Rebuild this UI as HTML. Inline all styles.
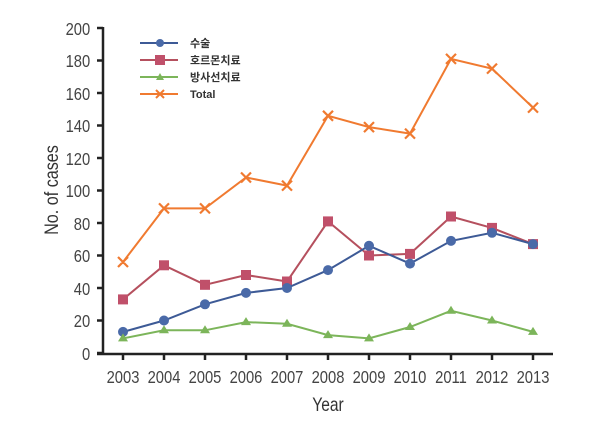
<!DOCTYPE html><html><head><style>body{margin:0;background:#fff}svg{display:block}text{font-family:"Liberation Sans","Noto Sans CJK KR",sans-serif}</style></head><body>
<svg width="600" height="438" viewBox="0 0 600 438">
<g fill="#444" font-size="18" text-anchor="end" transform="scale(0.82,1)">
<text x="110" y="360">0</text><text x="110" y="327">20</text><text x="110" y="295">40</text><text x="110" y="262">60</text><text x="110" y="230">80</text><text x="110" y="197">100</text><text x="110" y="165">120</text><text x="110" y="132">140</text><text x="110" y="100">160</text><text x="110" y="67">180</text><text x="110" y="35">200</text>
</g>
<g stroke="#222" stroke-width="2.5" fill="none">
<path d="M103,27V354M97,354H553"/>
<path d="M97,353h6M97,320.5h6M97,288h6M97,255.5h6M97,223h6M97,190.5h6M97,158h6M97,125.5h6M97,93h6M97,60.5h6M97,28h6"/>
<path d="M123,354v6M164,354v6M205,354v6M246,354v6M287,354v6M328,354v6M369,354v6M410,354v6M451,354v6M492,354v6M533,354v6"/>
</g>
<g fill="#444" font-size="18" text-anchor="middle" transform="scale(0.82,1)">
<text x="150" y="383">2003</text><text x="200" y="383">2004</text><text x="250" y="383">2005</text><text x="300" y="383">2006</text><text x="350" y="383">2007</text><text x="400" y="383">2008</text><text x="450" y="383">2009</text><text x="500" y="383">2010</text><text x="550" y="383">2011</text><text x="600" y="383">2012</text><text x="650" y="383">2013</text>
<text x="400" y="411" font-size="19" fill="#333">Year</text>
</g>
<text transform="translate(58,190) rotate(-90) scale(0.85,1)" text-anchor="middle" font-size="19" fill="#333">No. of cases</text>
<polyline fill="none" stroke="#f07a30" stroke-width="2" points="123,262 164,208.4 205,208.4 246,177.5 287,185.6 328,115.8 369,127.1 410,133.6 451,58.9 492,68.6 533,107.6"/>
<g stroke="#f07a30" stroke-width="2.2">
<path d="M118,257l10,10M128,257l-10,10M159,203.4l10,10M169,203.4l-10,10M200,203.4l10,10M210,203.4l-10,10M241,172.5l10,10M251,172.5l-10,10M282,180.6l10,10M292,180.6l-10,10M323,110.8l10,10M333,110.8l-10,10M364,122.1l10,10M374,122.1l-10,10M405,128.6l10,10M415,128.6l-10,10M446,53.9l10,10M456,53.9l-10,10M487,63.6l10,10M497,63.6l-10,10M528,102.6l10,10M538,102.6l-10,10"/>
</g>
<polyline fill="none" stroke="#b5505e" stroke-width="2" points="123,299.4 164,265.3 205,284.8 246,275 287,281.5 328,221.4 369,255.5 410,253.9 451,216.5 492,227.9 533,244.1"/>
<g fill="#c0506a">
<rect x="118" y="294.4" width="10" height="10"/><rect x="159" y="260.3" width="10" height="10"/><rect x="200" y="279.8" width="10" height="10"/><rect x="241" y="270" width="10" height="10"/><rect x="282" y="276.5" width="10" height="10"/><rect x="323" y="216.4" width="10" height="10"/><rect x="364" y="250.5" width="10" height="10"/><rect x="405" y="248.9" width="10" height="10"/><rect x="446" y="211.5" width="10" height="10"/><rect x="487" y="222.9" width="10" height="10"/><rect x="528" y="239.1" width="10" height="10"/>
</g>
<polyline fill="none" stroke="#3d5a96" stroke-width="2" points="123,331.9 164,320.5 205,304.3 246,292.9 287,288 328,270.1 369,245.8 410,263.6 451,240.9 492,232.8 533,244.1"/>
<g fill="#4a6aa8">
<circle cx="123" cy="331.9" r="5"/><circle cx="164" cy="320.5" r="5"/><circle cx="205" cy="304.3" r="5"/><circle cx="246" cy="292.9" r="5"/><circle cx="287" cy="288" r="5"/><circle cx="328" cy="270.1" r="5"/><circle cx="369" cy="245.8" r="5"/><circle cx="410" cy="263.6" r="5"/><circle cx="451" cy="240.9" r="5"/><circle cx="492" cy="232.8" r="5"/><circle cx="533" cy="244.1" r="5"/>
</g>
<polyline fill="none" stroke="#7cb55a" stroke-width="2" points="123,338.4 164,330.3 205,330.3 246,322.1 287,323.8 328,335.1 369,338.4 410,327 451,310.8 492,320.5 533,331.9"/>
<g fill="#7cb55a">
<path d="M123,333.4l5,8h-10zM164,325.3l5,8h-10zM205,325.3l5,8h-10zM246,317.1l5,8h-10zM287,318.8l5,8h-10zM328,330.1l5,8h-10zM369,333.4l5,8h-10zM410,322l5,8h-10zM451,305.8l5,8h-10zM492,315.5l5,8h-10zM533,326.9l5,8h-10z"/>
</g>
<g stroke-width="2">
<line x1="140" y1="43" x2="178" y2="43" stroke="#3d5a96"/><circle cx="160" cy="43" r="4" fill="#4a6aa8"/>
<line x1="140" y1="60" x2="178" y2="60" stroke="#b5505e"/><rect x="155" y="55" width="10" height="10" fill="#c0506a"/>
<line x1="140" y1="77" x2="178" y2="77" stroke="#7cb55a"/><path d="M160,73l4,7h-8z" fill="#7cb55a"/>
<line x1="140" y1="94" x2="178" y2="94" stroke="#f07a30"/><path d="M156,90l8,8M164,90l-8,8" stroke="#f07a30"/>
</g>
<g font-size="11" font-weight="bold" fill="#333">
<text x="190" y="47">수술</text><text x="190" y="64">호르몬치료</text><text x="190" y="81">방사선치료</text><text x="190" y="98">Total</text>
</g>
</svg>
</body></html>
